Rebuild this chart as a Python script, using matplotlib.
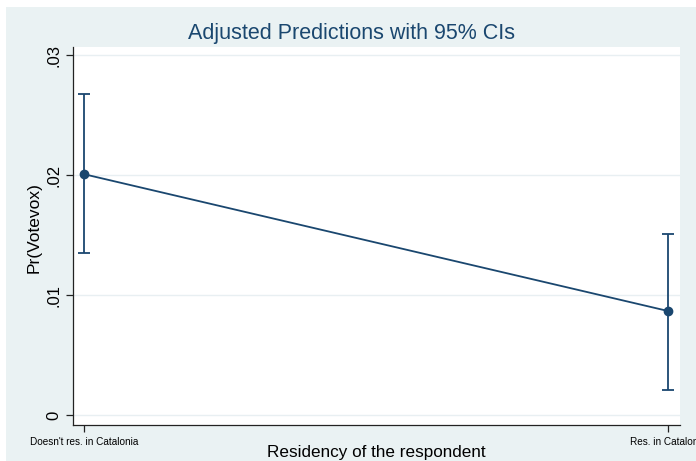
import numpy as np
import matplotlib.pyplot as plt
from matplotlib.patches import Rectangle

categories = ["Doesn't res. in Catalonia", "Res. in Catalonia"]
pred = [0.0201, 0.0087]
ci_low = [0.0135, 0.0021]
ci_high = [0.0268, 0.0151]

navy = "#1a476f"
bg = "#eaf2f3"

plt.rcParams['font.family'] = ['Liberation Sans', 'DejaVu Sans']

fig = plt.figure(figsize=(6.96, 4.61), dpi=100, facecolor="white")
fig.patches.append(Rectangle((6 / 696, 0), 1, 1 - 7 / 461, transform=fig.transFigure,
                             facecolor=bg, edgecolor="none", zorder=-10))
ax = fig.add_axes([73 / 696, 1 - 425 / 461, (680 - 73) / 696, (425 - 47) / 461])
ax.set_facecolor("white")

x = np.arange(len(categories))
pred = np.array(pred)
err = [pred - np.array(ci_low), np.array(ci_high) - pred]
ax.errorbar(x, pred, yerr=err, color=navy, lw=1.3, marker="o", ms=6,
            capsize=4, capthick=1.3, zorder=3)

ax.set_xlim(-0.019, 1.0205)
ax.set_ylim(-0.0008, 0.0307)
ax.set_yticks([0, 0.01, 0.02, 0.03])
ax.set_yticklabels(["0", ".01", ".02", ".03"], rotation=90, va="center", fontsize=12)
ax.set_xticks(x)
ax.set_xticklabels(categories, fontsize=7.2)
ax.grid(axis="y", color="#e8eff2", lw=1)
ax.set_axisbelow(True)
for s in ["top", "right"]:
    ax.spines[s].set_visible(False)
for s in ["left", "bottom"]:
    ax.spines[s].set_color("#222222")
    ax.spines[s].set_linewidth(0.9)
ax.tick_params(direction="out", length=5, width=0.9, color="#222222")

fig.text(34 / 696, 1 - 228 / 461, "Pr(Votevox)", rotation=90, ha="center", va="center",
         fontsize=12.5)
fig.text(376 / 696, 1 - 452 / 461, "Residency of the respondent", ha="center",
         va="center", fontsize=12.3)
fig.text(351 / 696, 1 - 33 / 461, "Adjusted Predictions with 95% CIs", ha="center",
         va="center", fontsize=15.5, color=navy)

fig.savefig("out.png", dpi=100, facecolor=fig.get_facecolor())
